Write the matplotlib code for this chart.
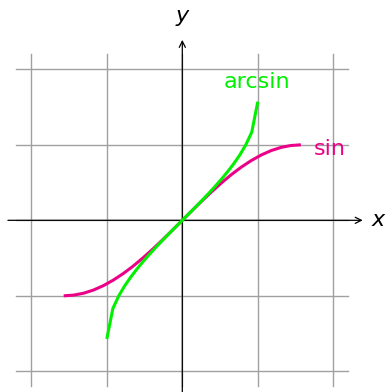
import numpy as np
import matplotlib
matplotlib.use('Agg')
import matplotlib.pyplot as plt

# sample points
sin_x = [-1.571, -1.440, -1.309, -1.178, -1.047, -0.916, -0.785, -0.654, -0.524,
         -0.393, -0.262, -0.131, 0.0, 0.131, 0.262, 0.393, 0.524, 0.654, 0.785,
         0.916, 1.047, 1.178, 1.309, 1.440, 1.571]
sin_y = [-1.000, -0.991, -0.966, -0.924, -0.866, -0.793, -0.707, -0.609, -0.500,
         -0.383, -0.259, -0.131, 0.0, 0.131, 0.259, 0.383, 0.500, 0.609, 0.707,
         0.793, 0.866, 0.924, 0.966, 0.991, 1.000]

asin_x = [-1.00, -0.92, -0.84, -0.76, -0.68, -0.60, -0.52, -0.44, -0.36, -0.28,
          -0.20, -0.12, -0.04, 0.04, 0.12, 0.20, 0.28, 0.36, 0.44, 0.52, 0.60,
          0.68, 0.76, 0.84, 0.92, 1.00]
asin_y = [-1.571, -1.168, -0.997, -0.863, -0.748, -0.644, -0.547, -0.456, -0.368,
          -0.284, -0.201, -0.120, -0.040, 0.040, 0.120, 0.201, 0.284, 0.368, 0.456,
          0.547, 0.644, 0.748, 0.863, 0.997, 1.168, 1.571]

grid_ticks = [-2, -1, 0, 1, 2]

GREEN = '#00f000'
MAGENTA = '#ec0088'

fig = plt.figure(figsize=(3.89, 3.92), dpi=100)
ax = fig.add_axes([0, 0, 1, 1])
ax.set_xlim(-2.415, 2.738)
ax.set_ylim(-2.274, 2.918)
ax.set_axis_off()

# help lines
for t in grid_ticks:
    ax.plot([t, t], [-2.2, 2.2], color='#a0a0a0', lw=1.0, zorder=1)
    ax.plot([-2.2, 2.2], [t, t], color='#a0a0a0', lw=1.0, zorder=1)

# axes with arrows
ax.annotate('', xy=(2.39, 0), xytext=(-2.31, 0),
            arrowprops=dict(arrowstyle='->', lw=0.9, color='black',
                            mutation_scale=11, shrinkA=0, shrinkB=0), zorder=2)
ax.annotate('', xy=(0, 2.39), xytext=(0, -2.4),
            arrowprops=dict(arrowstyle='->', lw=0.9, color='black',
                            mutation_scale=11, shrinkA=0, shrinkB=0), zorder=2)
ax.text(2.60, 0.0, 'x', fontsize=16, style='italic', ha='center', va='center')
ax.text(0.0, 2.70, 'y', fontsize=16, style='italic', ha='center', va='center')

ax.plot(sin_x, sin_y, color=MAGENTA, lw=2.2, solid_capstyle='butt', zorder=3)
ax.plot(asin_x, asin_y, color=GREEN, lw=2.2, solid_capstyle='butt', zorder=4)

ax.text(0.99, 1.83, 'arcsin', color=GREEN, fontsize=16, ha='center', va='center')
ax.text(1.95, 0.95, 'sin', color=MAGENTA, fontsize=16, ha='center', va='center')

plt.savefig('out.png', dpi=100, facecolor='white')
plt.close()
